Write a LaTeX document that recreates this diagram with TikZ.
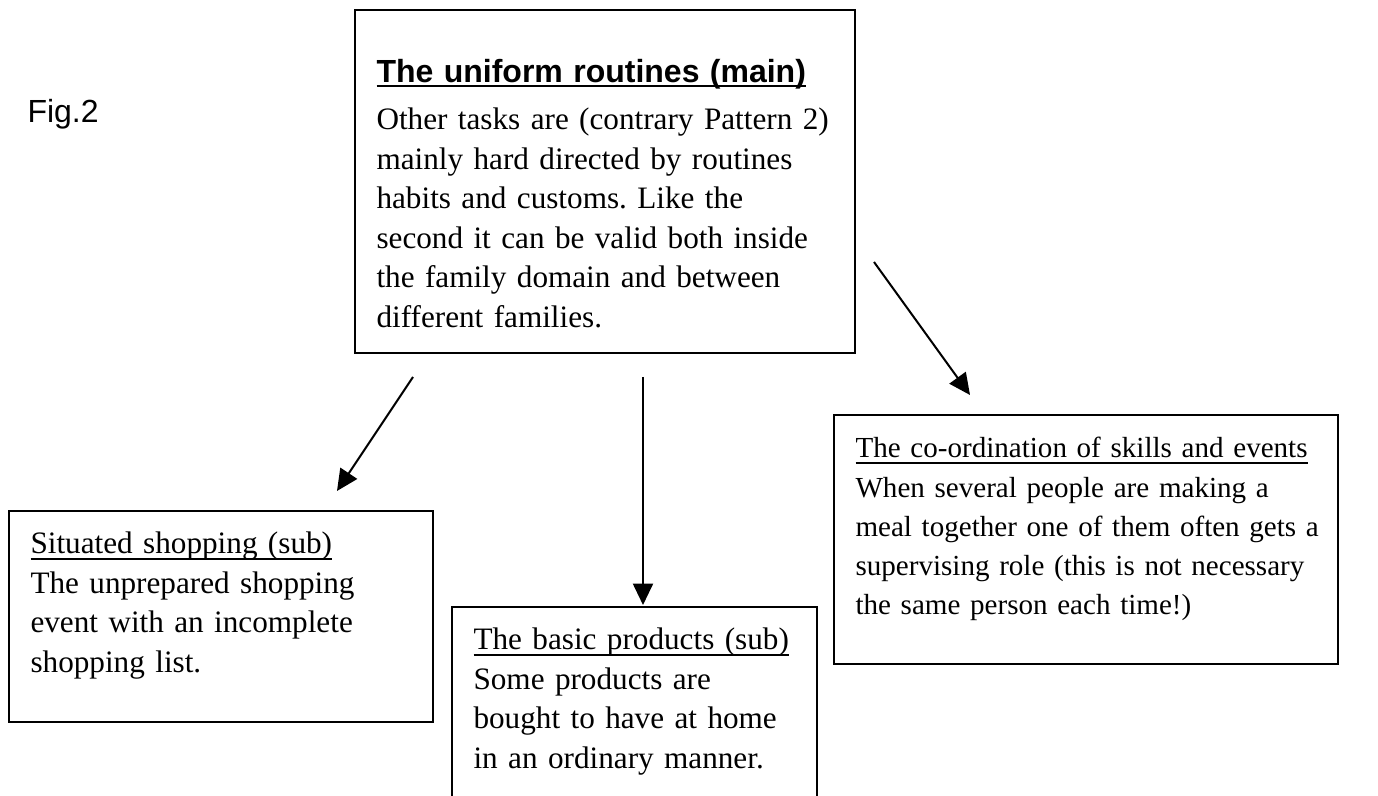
\documentclass[tikz,border=0pt]{standalone}
\usepackage{fontspec}
\setmainfont{Liberation Serif}
\newfontfamily\arialfont{Liberation Sans}
\frenchspacing
\newsavebox\ulbox
\newcommand\ulin[2][-2.2pt]{\sbox\ulbox{#2}\rlap{\rule[#1]{\wd\ulbox}{0.7pt}}\usebox\ulbox}
\usetikzlibrary{arrows.meta, positioning}

\begin{document}
\begin{tikzpicture}[x=0.375pt, y=-0.375pt, >={Triangle[length=8pt, width=7.5pt]},
    box/.style={draw, line width=0.75pt, inner sep=0pt},
    txt/.style={anchor=base west, inner sep=0pt, text width=200pt, align=left,
        font=\fontsize{11.7}{14.8}\selectfont}]
    \useasboundingbox (0,0) rectangle (1378,796);

    % Boxes
    \node[box, minimum width=187.5pt, minimum height=128.6pt] (main) at (605,181.5) {};
    \node[box, minimum width=159pt, minimum height=79.1pt] (shop) at (221,616.5) {};
    \node[box, minimum width=136.9pt, minimum height=83.6pt] (basic) at (634.5,718.5) {};
    \node[box, minimum width=189pt, minimum height=93.4pt] (coord) at (1086,539.5) {};

    % Texts
    \node[anchor=base west, inner sep=0pt, font=\arialfont\fontsize{12}{14}\selectfont] (fig) at (27,123) {Fig.2};
    \node[txt] (maintxt) at (376,83) {{\fontsize{12}{14.8}\arialfont\bfseries\ulin[-1.35pt]{The uniform routines (main)}}\\[2.8pt]
        Other tasks are (contrary Pattern 2)\\
        mainly hard directed by routines\\
        habits and customs. Like the\\
        second it can be valid both inside\\
        the family domain and between\\
        different families.};
    \node[txt] (shoptxt) at (30,554) {\ulin{Situated shopping (sub)}\\
        The unprepared shopping\\
        event with an incomplete\\
        shopping list.};
    \node[txt] (basictxt) at (473,650) {\ulin{The basic products (sub)}\\
        Some products are\\
        bought to have at home\\
        in an ordinary manner.};
    \node[txt, font=\fontsize{10.9}{14.7}\selectfont] (coordtxt) at (855,458) {\ulin{The co-ordination of skills and events}\\
        When several people are making a\\
        meal together one of them often gets a\\
        supervising role (this is not necessary\\
        the same person each time!)};

    % Arrows from the main box to the sub boxes
    \coordinate (shopfrom) at (413,377);
    \coordinate (shopto) at (337,491);
    \coordinate (basicfrom) at (643,377);
    \coordinate (basicto) at (643,605);
    \coordinate (coordfrom) at (874,262);
    \coordinate (coordto) at (970,395);
    \draw[->, line width=0.75pt] (shopfrom) -- (shopto);
    \draw[->, line width=0.75pt] (basicfrom) -- (basicto);
    \draw[->, line width=0.75pt] (coordfrom) -- (coordto);
\end{tikzpicture}
\end{document}
